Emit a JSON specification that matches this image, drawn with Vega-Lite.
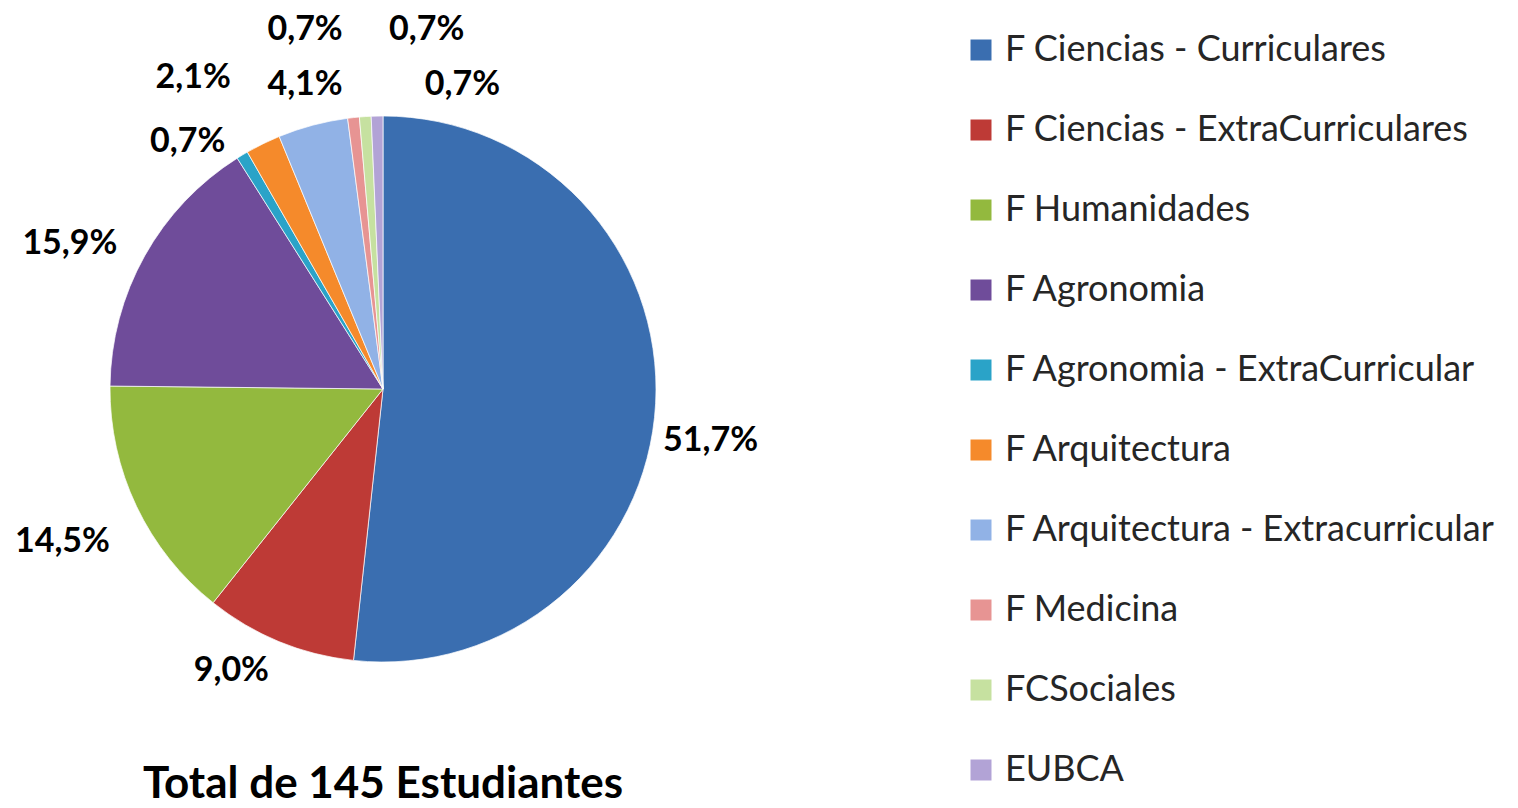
{
  "$schema": "https://vega.github.io/schema/vega-lite/v6.json",
  "width": 766,
  "height": 778,
  "padding": 0,
  "background": "white",
  "title": {
    "text": "Total de 145 Estudiantes",
    "orient": "bottom",
    "anchor": "middle",
    "frame": "group",
    "baseline": "alphabetic",
    "offset": -22,
    "font": "Lato",
    "fontWeight": "bold",
    "fontSize": 44,
    "color": "#000000"
  },
  "data": {
    "values": [
      {"orden": 1, "categoria": "F Ciencias - Curriculares", "estudiantes": 75, "porcentaje": "51,7%"},
      {"orden": 2, "categoria": "F Ciencias - ExtraCurriculares", "estudiantes": 13, "porcentaje": "9,0%"},
      {"orden": 3, "categoria": "F Humanidades", "estudiantes": 21, "porcentaje": "14,5%"},
      {"orden": 4, "categoria": "F Agronomia", "estudiantes": 23, "porcentaje": "15,9%"},
      {"orden": 5, "categoria": "F Agronomia - ExtraCurricular", "estudiantes": 1, "porcentaje": "0,7%"},
      {"orden": 6, "categoria": "F Arquitectura", "estudiantes": 3, "porcentaje": "2,1%"},
      {"orden": 7, "categoria": "F Arquitectura - Extracurricular", "estudiantes": 6, "porcentaje": "4,1%"},
      {"orden": 8, "categoria": "F Medicina", "estudiantes": 1, "porcentaje": "0,7%"},
      {"orden": 9, "categoria": "FCSociales", "estudiantes": 1, "porcentaje": "0,7%"},
      {"orden": 10, "categoria": "EUBCA", "estudiantes": 1, "porcentaje": "0,7%"}
    ]
  },
  "encoding": {
    "theta": {"field": "estudiantes", "type": "quantitative", "stack": true},
    "order": {"field": "orden", "type": "quantitative"}
  },
  "layer": [
    {
      "mark": {"type": "arc", "outerRadius": 273, "stroke": "#ffffff", "strokeWidth": 1, "strokeOpacity": 0.7},
      "encoding": {
        "color": {
          "field": "categoria",
          "type": "nominal",
          "sort": null,
          "scale": {
            "domain": ["F Ciencias - Curriculares", "F Ciencias - ExtraCurriculares", "F Humanidades", "F Agronomia", "F Agronomia - ExtraCurricular", "F Arquitectura", "F Arquitectura - Extracurricular", "F Medicina", "FCSociales", "EUBCA"],
            "range": ["#3a6eb0", "#be3a36", "#93b93e", "#6f4c9a", "#2aa3c8", "#f58a2b", "#91b2e6", "#e79493", "#c6e1a0", "#b2a3d6"]
          },
          "legend": {
            "title": null,
            "orient": "right",
            "offset": 165,
            "padding": 32,
            "symbolType": "square",
            "symbolSize": 441,
            "symbolStrokeWidth": 0,
            "labelFont": "Lato",
            "labelFontSize": 36,
            "labelColor": "#262626",
            "labelOffset": 6,
            "labelLimit": 700,
            "rowPadding": 44
          }
        }
      }
    },
    {
      "mark": {"type": "text", "radius": 330, "dx": -2, "dy": 34, "font": "Lato", "fontWeight": "bold", "fontSize": 34, "fill": "#000000"},
      "encoding": {"detail": {"field": "categoria"}, "text": {"condition": {"test": "datum.orden === 1", "field": "porcentaje"}, "value": ""}}
    },
    {
      "mark": {"type": "text", "radius": 320, "dx": -30, "dy": -14, "font": "Lato", "fontWeight": "bold", "fontSize": 34, "fill": "#000000"},
      "encoding": {"detail": {"field": "categoria"}, "text": {"condition": {"test": "datum.orden === 2", "field": "porcentaje"}, "value": ""}}
    },
    {
      "mark": {"type": "text", "radius": 355, "dx": 0, "dy": 0, "font": "Lato", "fontWeight": "bold", "fontSize": 34, "fill": "#000000"},
      "encoding": {"detail": {"field": "categoria"}, "text": {"condition": {"test": "datum.orden === 3", "field": "porcentaje"}, "value": ""}}
    },
    {
      "mark": {"type": "text", "radius": 346, "dx": -11, "dy": 24, "font": "Lato", "fontWeight": "bold", "fontSize": 34, "fill": "#000000"},
      "encoding": {"detail": {"field": "categoria"}, "text": {"condition": {"test": "datum.orden === 4", "field": "porcentaje"}, "value": ""}}
    },
    {
      "mark": {"type": "text", "radius": 311, "dx": -35, "dy": 19, "font": "Lato", "fontWeight": "bold", "fontSize": 34, "fill": "#000000"},
      "encoding": {"detail": {"field": "categoria"}, "text": {"condition": {"test": "datum.orden === 5", "field": "porcentaje"}, "value": ""}}
    },
    {
      "mark": {"type": "text", "radius": 350, "dx": -36, "dy": 3, "font": "Lato", "fontWeight": "bold", "fontSize": 34, "fill": "#000000"},
      "encoding": {"detail": {"field": "categoria"}, "text": {"condition": {"test": "datum.orden === 6", "field": "porcentaje"}, "value": ""}}
    },
    {
      "mark": {"type": "text", "radius": 311, "dx": 2, "dy": -3, "font": "Lato", "fontWeight": "bold", "fontSize": 34, "fill": "#000000"},
      "encoding": {"detail": {"field": "categoria"}, "text": {"condition": {"test": "datum.orden === 7", "field": "porcentaje"}, "value": ""}}
    },
    {
      "mark": {"type": "text", "radius": 360, "dx": -39, "dy": -1, "font": "Lato", "fontWeight": "bold", "fontSize": 34, "fill": "#000000"},
      "encoding": {"detail": {"field": "categoria"}, "text": {"condition": {"test": "datum.orden === 8", "field": "porcentaje"}, "value": ""}}
    },
    {
      "mark": {"type": "text", "radius": 360, "dx": 67, "dy": 0, "font": "Lato", "fontWeight": "bold", "fontSize": 34, "fill": "#000000"},
      "encoding": {"detail": {"field": "categoria"}, "text": {"condition": {"test": "datum.orden === 9", "field": "porcentaje"}, "value": ""}}
    },
    {
      "mark": {"type": "text", "radius": 304, "dx": 86, "dy": 0, "font": "Lato", "fontWeight": "bold", "fontSize": 34, "fill": "#000000"},
      "encoding": {"detail": {"field": "categoria"}, "text": {"condition": {"test": "datum.orden === 10", "field": "porcentaje"}, "value": ""}}
    }
  ],
  "config": {"view": {"stroke": null}}
}
